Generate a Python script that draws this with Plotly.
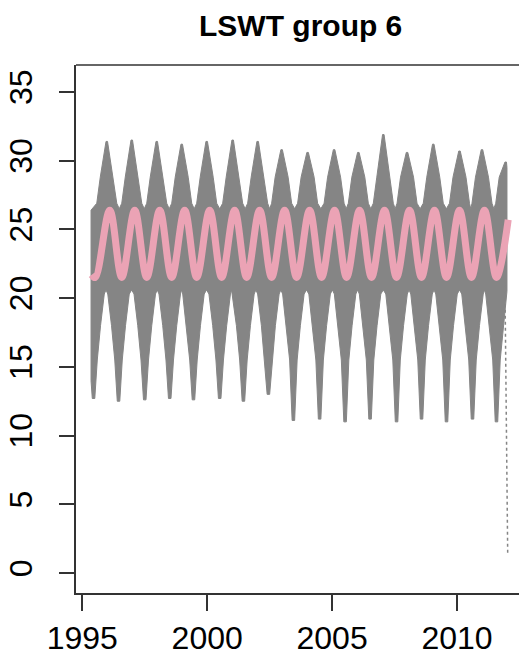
import plotly.graph_objects as go

# ---- data ----
# upper spikes of the grey lake series (time, peak temperature)
up_t = [1995.98, 1996.98, 1997.98, 1998.98, 1999.98, 2001.02, 2002.02, 2002.98, 2004.02,
        2005.08, 2006.05, 2007.05, 2008.00, 2009.05, 2010.10, 2011.00, 2011.95]
up_v = [31.4, 31.5, 31.4, 31.2, 31.4, 31.5, 31.4, 30.8, 30.6,
        30.8, 30.6, 31.9, 30.6, 31.2, 30.7, 30.8, 29.9]
# lower spikes (time, minimum temperature)
lo_t = [1995.45, 1996.45, 1997.50, 1998.50, 1999.45, 2000.50, 2001.45, 2002.45, 2003.45,
        2004.50, 2005.52, 2006.52, 2007.58, 2008.58, 2009.58, 2010.62, 2011.58]
lo_v = [12.7, 12.5, 12.6, 12.7, 12.6, 12.7, 12.5, 13.0, 11.1,
        11.2, 11.0, 11.2, 11.0, 11.2, 11.0, 11.2, 11.0]
# spike profiles (offset from spike centre, level)
up_prof_dt = [-0.40, -0.26, -0.03, 0.03, 0.26, 0.40]
up_prof_v = [26.9, 28.8, None, None, 28.8, 26.9]
up_plateau = 26.5
lo_prof_dt = [-0.43, -0.28, -0.15, -0.05, 0.05, 0.15, 0.28, 0.43]
lo_prof_v = [20.3, 18.0, 15.5, None, None, 15.5, 18.0, 20.3]
lo_plateau = 20.6
data_start, data_end = 1995.35, 2012.0
start_upper, start_lower = 26.4, 14.0
end_upper, end_lower = 29.5, 20.5

# one lake series dropping at the very end (dotted)
drop_t = [2011.92, 2012.03]
drop_v = [20.9, 1.3]

# mean seasonal curve (pink): turning points
pink_t = [1995.37, 1995.52]
pink_v = [21.7, 21.5]
for y in range(1996, 2012):
    pink_t += [y + 0.10, y + 0.58]
    pink_v += [26.4, 21.5]
pink_t += [2012.05]
pink_v += [25.7]

x_ticks = [1995, 2000, 2005, 2010]
y_ticks = [0, 5, 10, 15, 20, 25, 30, 35]


def envelope(cent, vals, dts, levs, plateau, sv, ev):
    pts = []
    for i, (c, v) in enumerate(zip(cent, vals)):
        for dt, lv in zip(dts, levs):
            pts.append((c + dt, v if lv is None else lv))
        if i + 1 < len(cent):
            pts.append(((c + cent[i + 1]) / 2, plateau))
    pts = [p for p in pts if data_start < p[0] < data_end]
    return [(data_start, sv)] + pts + [(data_end, ev)]


upper = envelope(up_t, up_v, up_prof_dt, up_prof_v, up_plateau, start_upper, end_upper)
lower = envelope(lo_t, lo_v, lo_prof_dt, lo_prof_v, lo_plateau, start_lower, end_lower)
poly_x = [p[0] for p in upper] + [p[0] for p in reversed(lower)] + [upper[0][0]]
poly_y = [p[1] for p in upper] + [p[1] for p in reversed(lower)] + [upper[0][1]]

GREY = "rgb(133,133,133)"
PINK = "#EBA3B5"
FONT = "Liberation Sans, Arial, sans-serif"

fig = go.Figure()
fig.add_trace(go.Scatter(x=poly_x, y=poly_y, mode="lines", fill="toself",
                         fillcolor=GREY, line=dict(color=GREY, width=1),
                         hoverinfo="skip", showlegend=False))
fig.add_trace(go.Scatter(x=drop_t, y=drop_v, mode="lines",
                         line=dict(color=GREY, width=1.5, dash="dot"),
                         showlegend=False))
fig.add_trace(go.Scatter(x=pink_t, y=pink_v, mode="lines",
                         line=dict(color=PINK, width=7, shape="spline", smoothing=1.0),
                         showlegend=False))

fig.update_layout(
    width=519, height=656,
    margin=dict(l=76, r=0, t=65, b=61),
    paper_bgcolor="white", plot_bgcolor="white",
    font=dict(family=FONT, color="black"),
    showlegend=False,
    xaxis=dict(range=[1994.748, 2012.482], tickvals=x_ticks,
               ticktext=[str(v) for v in x_ticks],
               ticks="outside", ticklen=16, tickwidth=1.5, tickcolor="#333",
               showline=True, linecolor="#333", linewidth=1.5, mirror=False,
               showgrid=False, zeroline=False,
               tickfont=dict(size=32, family=FONT, color="black")),
    yaxis=dict(range=[-1.45, 36.96], tickvals=y_ticks,
               ticktext=[str(v) for v in y_ticks],
               ticks="outside", ticklen=15, tickwidth=1.5, tickcolor="#333",
               tickangle=-90, ticklabelstandoff=14,
               showline=True, linecolor="#333", linewidth=1.5, mirror=False,
               showgrid=False, zeroline=False,
               tickfont=dict(size=32, family=FONT, color="black")),
    annotations=[dict(text="<b>LSWT group 6</b>", xref="paper", yref="paper",
                      x=(300 - 76) / 443, y=1 + (65 - 25) / 530,
                      xanchor="center", yanchor="middle", showarrow=False,
                      font=dict(size=30, family=FONT, color="black"))],
    shapes=[dict(type="line", xref="paper", yref="paper", x0=0, x1=1.02, y0=1, y1=1,
                 line=dict(color="#333", width=1.5))],
)

fig.write_html("out.html")
